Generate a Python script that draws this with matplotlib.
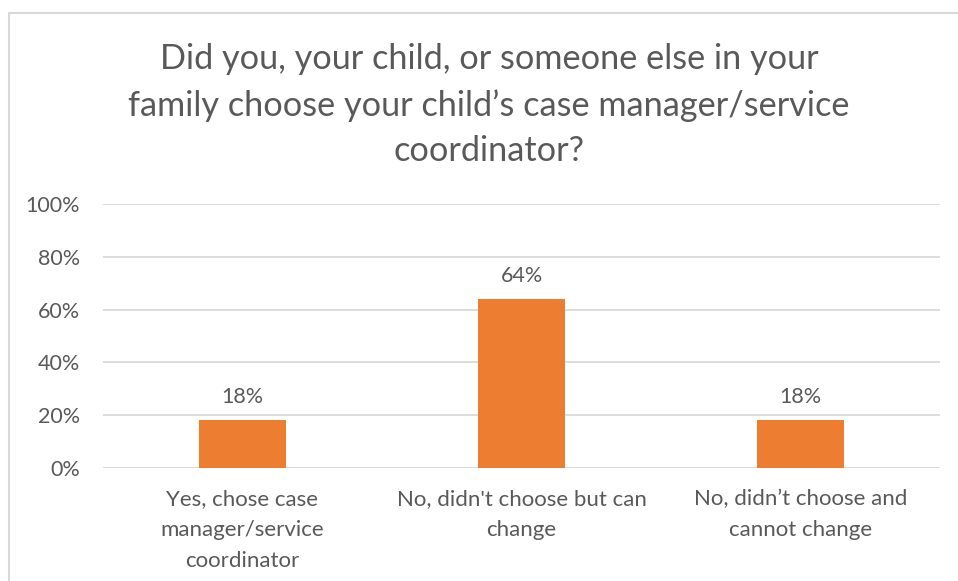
import matplotlib
matplotlib.use("Agg")
import matplotlib.pyplot as plt
from matplotlib.patches import Rectangle

categories = [
    "Yes, chose case\nmanager/service\ncoordinator",
    "No, didn't choose but can\nchange",
    "No, didn\u2019t choose and\ncannot change",
]
values = [18, 64, 18]
yticks = [0, 20, 40, 60, 80, 100]
ytick_labels = ["0%", "20%", "40%", "60%", "80%", "100%"]
title = ("Did you, your child, or someone else in your\n"
         "family choose your child\u2019s case manager/service\n"
         "coordinator?")

W, H = 958, 581
TEXT = "#595959"
GRID = "#D9D9D9"
BAR = "#ED7D31"

plt.rcParams["font.family"] = ["Lato", "DejaVu Sans"]

fig = plt.figure(figsize=(W / 100, H / 100), dpi=100)
fig.patch.set_facecolor("white")

# chart frame
fig.add_artist(Rectangle((9 / W, -0.05), 1.2, (H - 13) / H + 0.05,
                         transform=fig.transFigure, fill=False,
                         edgecolor="#D9D9D9", linewidth=1.5))

fig.text(489 / W, 1 - 105 / H, title, ha="center", va="center",
         fontsize=24.7, color=TEXT, linespacing=1.52)

left, right, top, bottom = 103, 940, 204, 468
ax = fig.add_axes([left / W, 1 - bottom / H, (right - left) / W, (bottom - top) / H])
x = range(len(categories))
bars = ax.bar(x, values, width=0.312, color=BAR, zorder=3)
ax.set_xlim(-0.5, len(categories) - 0.5)
ax.set_ylim(0, 100)
ax.set_yticks(yticks)
ax.set_yticklabels(ytick_labels)
ax.set_xticks(list(x))
ax.set_xticklabels(categories, linespacing=1.68, fontsize=16)
ax.tick_params(axis="y", length=0, colors=TEXT, labelsize=15.5, pad=16.5)
ax.tick_params(axis="x", length=0, colors=TEXT, pad=15)
for lbl in ax.get_xticklabels() + ax.get_yticklabels():
    lbl.set_color(TEXT)
ax.grid(axis="y", color=GRID, linewidth=1.3, zorder=0)
for s in ax.spines.values():
    s.set_visible(False)
ax.axhline(0, color=GRID, linewidth=1.3, zorder=2)

for rect, v in zip(bars, values):
    ax.annotate(f"{v}%", (rect.get_x() + rect.get_width() / 2, v),
                xytext=(0, 9.5), textcoords="offset points",
                ha="center", va="bottom", fontsize=15.5, color=TEXT)

fig.savefig("out.png", dpi=100)
